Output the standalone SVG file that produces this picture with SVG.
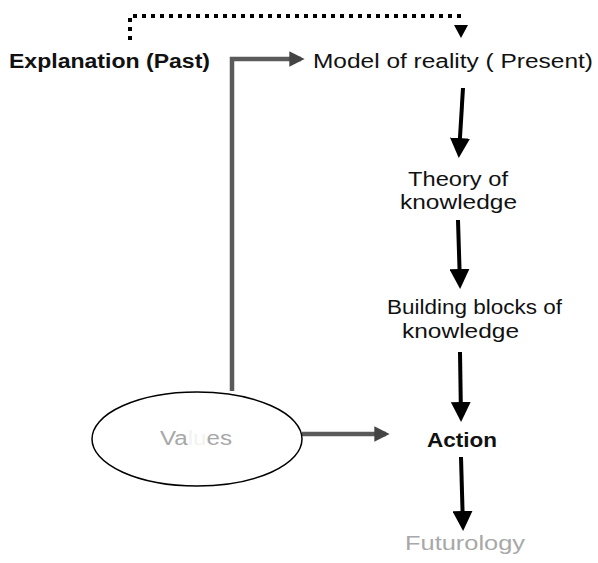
<svg xmlns="http://www.w3.org/2000/svg" width="598" height="563" viewBox="0 0 598 563">
  <style>
    .lbl { font-family: "Liberation Sans", Arial, sans-serif; font-size: 20px; fill: #111; }
    .bold { font-weight: bold; }
    .faint { fill: #a8a8a8; }
    .arrow { stroke: #000; stroke-width: 4; fill: none; marker-end: url(#head); }
    .grey { stroke: #5a5a5a; stroke-width: 4.5; fill: none; marker-end: url(#ghead); }
    .dots { stroke: #000; stroke-width: 4; fill: none; stroke-dasharray: 4 5; }
  </style>
  <defs>
    <marker id="head" markerWidth="5" markerHeight="5" refX="4" refY="2.5" orient="auto" markerUnits="strokeWidth">
      <path d="M0,0 L5,2.5 L0,5 Z" fill="#000"/>
    </marker>
    <marker id="ghead" markerWidth="3.4" markerHeight="3.4" refX="2.6" refY="1.7" orient="auto" markerUnits="strokeWidth">
      <path d="M0,0 L3.4,1.7 L0,3.4 Z" fill="#444"/>
    </marker>
  </defs>
  <rect width="598" height="563" fill="#fff"/>

  <g id="connectors">
    <!-- dotted feedback from Explanation to Model of reality -->
    <path class="dots" d="M130,40 L130,16 L462,16"/>
    <path d="M454,25 L468,25 L461,38 Z" fill="#000"/>
    <!-- Values up to Model of reality -->
    <path class="grey" d="M232,391 L232,59 L301,59"/>
    <!-- Values to Action -->
    <path class="grey" d="M302,434 L386,434"/>
    <!-- main chain -->
    <path class="arrow" d="M463,88 L459,154"/>
    <path class="arrow" d="M458,220 L460,285"/>
    <path class="arrow" d="M460,352 L461,418"/>
    <path class="arrow" d="M461,457 L463,527"/>
  </g>

  <g id="explanation">
    <text class="lbl bold" x="9" y="68" font-size="21" textLength="201" lengthAdjust="spacingAndGlyphs">Explanation (Past)</text>
  </g>
  <g id="model">
    <text class="lbl" x="313" y="68" textLength="280" lengthAdjust="spacingAndGlyphs">Model of reality ( Present)</text>
  </g>
  <g id="theory">
    <text class="lbl" x="408" y="186" textLength="100" lengthAdjust="spacingAndGlyphs">Theory of</text>
    <text class="lbl" x="400" y="209" textLength="117" lengthAdjust="spacingAndGlyphs">knowledge</text>
  </g>
  <g id="building">
    <text class="lbl" x="387" y="314" textLength="175" lengthAdjust="spacingAndGlyphs">Building blocks of</text>
    <text class="lbl" x="402" y="338" textLength="117" lengthAdjust="spacingAndGlyphs">knowledge</text>
  </g>
  <g id="values">
    <ellipse cx="197" cy="439" rx="105" ry="47" fill="#fff" stroke="#000" stroke-width="1.5"/>
    <text class="lbl faint" x="160" y="445" textLength="72" lengthAdjust="spacingAndGlyphs">Va<tspan fill="#f2f2f2">lu</tspan>es</text>
  </g>
  <g id="action">
    <text class="lbl bold" x="427" y="447" textLength="70" lengthAdjust="spacingAndGlyphs">Action</text>
  </g>
  <g id="futurology">
    <text class="lbl faint" x="405" y="550" textLength="120" lengthAdjust="spacingAndGlyphs">Futurology</text>
  </g>
</svg>
